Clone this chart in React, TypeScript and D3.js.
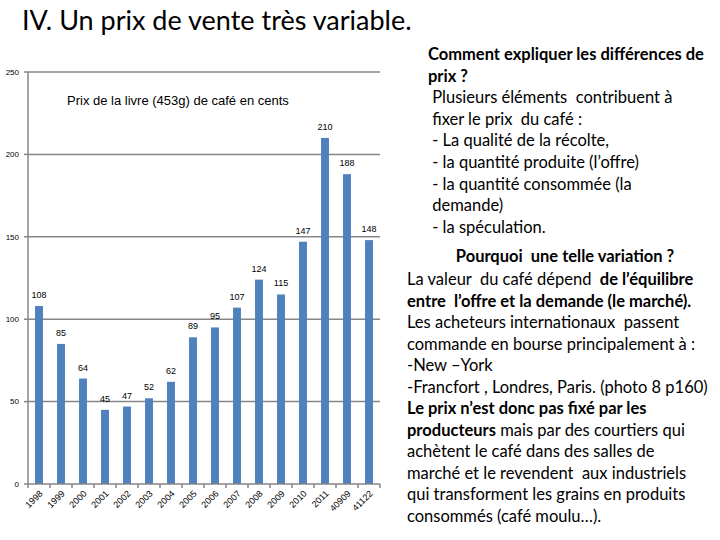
import React from 'react';
import * as d3 from 'd3';

const categories = ['1998', '1999', '2000', '2001', '2002', '2003', '2004', '2005', '2006', '2007', '2008', '2009', '2010', '2011', '40909', '41122'];
const prices = [108, 85, 64, 45, 47, 52, 62, 89, 95, 107, 124, 115, 147, 210, 188, 148];
const yTicks = [0, 50, 100, 150, 200, 250];

const mainTitle = 'IV. Un prix de vente très variable.';
const chartTitle = 'Prix de la livre (453g) de café en cents';

// each line: list of [text, bold]
const blockOne: [string, boolean][][] = [
  [['Comment expliquer les différences de', true]],
  [['prix ?', true]],
  [[' Plusieurs éléments  contribuent à', false]],
  [[' fixer le prix  du café :', false]],
  [[' - La qualité de la récolte,', false]],
  [[' - la quantité produite (l\u2019offre)', false]],
  [[' - la quantité consommée (la', false]],
  [[' demande)', false]],
  [[' - la spéculation.', false]],
];

const blockTwo: [string, boolean][][] = [
  [['La valeur  du café dépend  ', false], ['de l\u2019équilibre', true]],
  [['entre  l\u2019offre et la demande (le marché).', true]],
  [['Les acheteurs internationaux  passent', false]],
  [['commande en bourse principalement à :', false]],
  [['-New \u2013York', false]],
  [['-Francfort , Londres, Paris. (photo 8 p160)', false]],
  [['Le prix n\u2019est donc pas fixé par les', true]],
  [['producteurs', true], [' mais par des courtiers qui', false]],
  [['achètent le café dans des salles de', false]],
  [['marché et le revendent  aux industriels', false]],
  [['qui transforment les grains en produits', false]],
  [['consommés (café moulu\u2026).', false]],
];
const blockTwoTitle = 'Pourquoi  une telle variation ?';

const W = 720;
const H = 540;
const plot = { left: 28, right: 380, top: 72, bottom: 484 };
const textFont = 'Lato, "Open Sans", sans-serif';
const chartFont = 'Arial, "Liberation Sans", sans-serif';

export default function App() {
  const x = d3.scaleBand<string>()
    .domain(categories)
    .range([plot.left, plot.right])
    .paddingInner(0.64)
    .paddingOuter(0.32);

  const y = d3.scaleLinear()
    .domain([0, 250])
    .range([plot.bottom, plot.top]);

  const step = x.step();

  const renderLine = (segs: [string, boolean][], key: number, xPos: number, yPos: number, anchor = 'start') => (
    <text key={key} x={xPos} y={yPos} textAnchor={anchor} fontSize={16.5} fontFamily={textFont} fill="#000" style={{ whiteSpace: 'pre' }}>
      {segs.map((s, i) => (
        <tspan key={i} fontWeight={s[1] ? 700 : 400}>{s[0]}</tspan>
      ))}
    </text>
  );

  return (
    <svg width={W} height={H} style={{ position: 'absolute', left: 0, top: 0, background: '#fff' }}>
      <text x={22} y={30} fontSize={27} fontFamily={textFont} fill="#000">{mainTitle}</text>

      {/* gridlines */}
      {yTicks.filter(t => t > 0).map(t => (
        <line key={t} x1={plot.left} x2={plot.right} y1={y(t)} y2={y(t)} stroke="#868686" strokeWidth={1.5} />
      ))}
      {yTicks.map(t => (
        <g key={'yt' + t}>
          <line x1={plot.left - 4} x2={plot.left} y1={y(t)} y2={y(t)} stroke="#868686" strokeWidth={1.5} />
          <text x={plot.left - 9} y={y(t)} dy="0.35em" textAnchor="end" fontSize={8} fontFamily={chartFont} fill="#000">{t}</text>
        </g>
      ))}

      <text x={67} y={105} fontSize={13} fontFamily={chartFont} fill="#000">{chartTitle}</text>

      {/* bars */}
      {categories.map((c, i) => (
        <rect key={c} x={x(c)} y={y(prices[i])} width={x.bandwidth()} height={y(0) - y(prices[i])} fill="#4F81BD" />
      ))}
      {categories.map((c, i) => (
        <text key={'l' + c} x={(x(c) as number) + x.bandwidth() / 2} y={y(prices[i]) - 8} textAnchor="middle" fontSize={9} fontFamily={chartFont} fill="#000">{prices[i]}</text>
      ))}

      {/* axes */}
      <line x1={plot.left} x2={plot.left} y1={plot.top} y2={plot.bottom} stroke="#868686" strokeWidth={1.5} />
      <line x1={plot.left} x2={plot.right} y1={plot.bottom} y2={plot.bottom} stroke="#868686" strokeWidth={1.5} />
      {d3.range(categories.length + 1).map(i => (
        <line key={'xt' + i} x1={plot.left + i * step} x2={plot.left + i * step} y1={plot.bottom} y2={plot.bottom + 4} stroke="#868686" strokeWidth={1.5} />
      ))}
      {categories.map(c => {
        const cx = (x(c) as number) + x.bandwidth() / 2 + 2;
        const cy = plot.bottom + 8;
        return (
          <text key={'xl' + c} x={cx} y={cy} dy="0.35em" textAnchor="end" fontSize={9} fontFamily={chartFont} fill="#000" transform={`rotate(-45 ${cx} ${cy})`}>{c}</text>
        );
      })}

      {/* right-hand notes */}
      {blockOne.map((segs, i) => renderLine(segs, i, 428, 60 + i * 21.6))}
      <text x={565} y={262} textAnchor="middle" fontSize={16.5} fontWeight={700} fontFamily={textFont} fill="#000" style={{ whiteSpace: 'pre' }}>{blockTwoTitle}</text>
      {blockTwo.map((segs, i) => renderLine(segs, 100 + i, 407, 285 + i * 21.5))}
    </svg>
  );
}
